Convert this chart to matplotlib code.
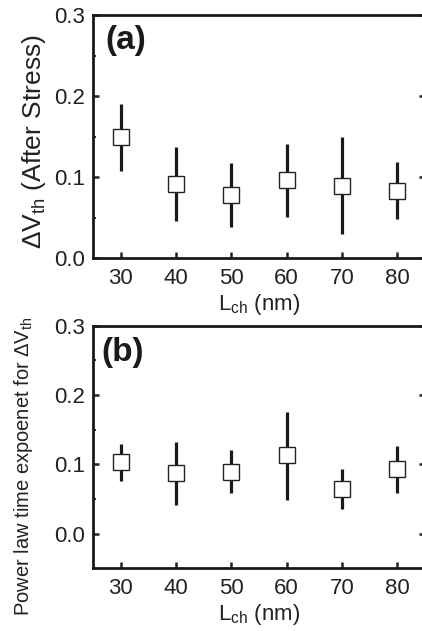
import numpy as np
import matplotlib
matplotlib.use('Agg')
import matplotlib.pyplot as plt
from matplotlib.ticker import MultipleLocator

plt.rcParams['font.family'] = ['Liberation Sans', 'DejaVu Sans']
plt.rcParams['mathtext.fontset'] = 'custom'
plt.rcParams['mathtext.rm'] = 'Liberation Sans'
plt.rcParams['mathtext.it'] = 'Liberation Sans:italic'

# donnees
lch = [30, 40, 50, 60, 70, 80]

# (a) Delta Vth apres stress
dvth = [0.150, 0.091, 0.078, 0.096, 0.089, 0.083]
dvth_haut = [0.190, 0.137, 0.117, 0.141, 0.149, 0.118]
dvth_bas = [0.108, 0.046, 0.038, 0.051, 0.030, 0.048]

# (b) exposant de la loi de puissance
expo = [0.103, 0.087, 0.089, 0.113, 0.064, 0.093]
expo_haut = [0.130, 0.132, 0.120, 0.175, 0.093, 0.127]
expo_bas = [0.076, 0.041, 0.059, 0.049, 0.036, 0.059]

fig = plt.figure(figsize=(4.22, 6.31), dpi=100)
ax1 = fig.add_axes([0.2204, 0.5911, 0.7867, 0.3851])
ax2 = fig.add_axes([0.2204, 0.0994, 0.7867, 0.3845])


def panneau(ax, y, haut, bas, ylim, lettre, pos):
    y = np.array(y)
    err = [y - np.array(bas), np.array(haut) - y]
    ax.errorbar(lch, y, yerr=err, fmt='s', ms=12, mfc='white', mec='#222222',
                mew=1.0, ecolor='#1a1a1a', elinewidth=2.3, capsize=0)
    ax.set_xlim(25, 85)
    ax.set_ylim(*ylim)
    ax.set_xticks(lch)
    ax.set_yticks([0.0, 0.1, 0.2, 0.3])
    ax.yaxis.set_minor_locator(MultipleLocator(0.05))
    ax.tick_params(axis='both', which='major', direction='in', length=4,
                   width=1.8, labelsize=16, colors='#222222', pad=6)
    ax.tick_params(axis='y', which='both', right=True, direction='in')
    ax.tick_params(axis='y', which='minor', length=2.5, width=1.2)
    ax.tick_params(axis='x', which='major', pad=7)
    for s in ax.spines.values():
        s.set_linewidth(2.0)
        s.set_color('#1a1a1a')
    ax.set_xlabel('L$_{\\rm ch}$ (nm)', fontsize=16, labelpad=2, color='#222222')
    ax.text(pos[0], pos[1], lettre, transform=ax.transAxes, fontsize=24,
            fontweight='bold', va='top', ha='left', color='#1a1a1a')


panneau(ax1, dvth, dvth_haut, dvth_bas, (0.0, 0.3), '(a)', (0.038, 0.96))
panneau(ax2, expo, expo_haut, expo_bas, (-0.05, 0.3), '(b)', (0.024, 0.955))

ax1.set_ylabel('ΔV$_{\\rm th}$ (After Stress)', fontsize=19, color='#222222')
ax1.yaxis.set_label_coords(-0.135, 0.48)
ax2.set_ylabel('Power law time expoenet for ΔV$_{\\rm th}$', fontsize=14.5,
               color='#222222')
ax2.yaxis.set_label_coords(-0.175, 0.42)

plt.savefig('out.png', dpi=100)
